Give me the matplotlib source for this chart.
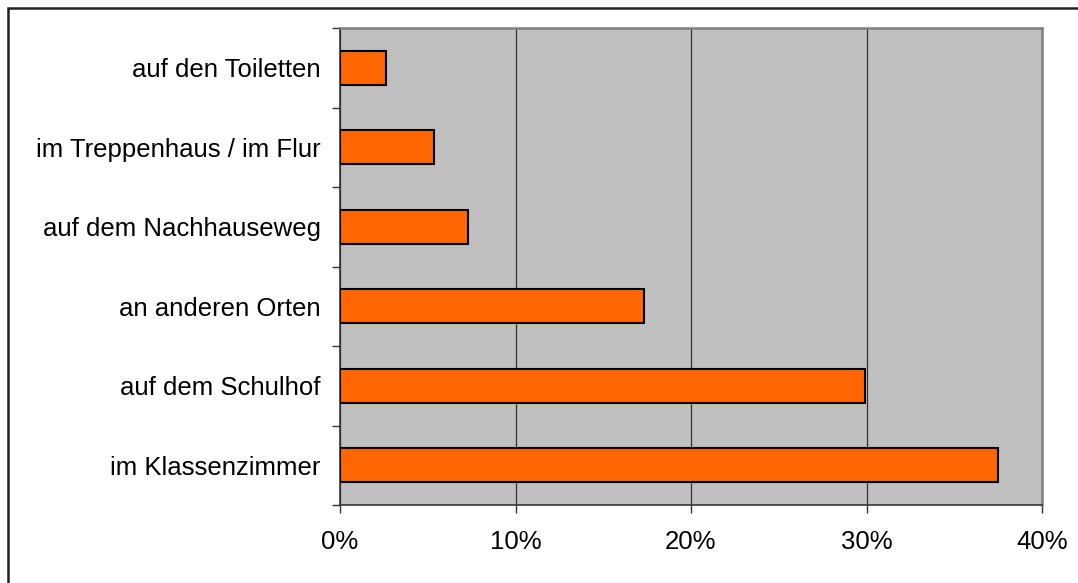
import matplotlib
matplotlib.use("Agg")
import matplotlib.pyplot as plt
from matplotlib.patches import Rectangle
from matplotlib.ticker import PercentFormatter

# bottom to top, as drawn
categories = ["im Klassenzimmer", "auf dem Schulhof", "an anderen Orten",
              "auf dem Nachhauseweg", "im Treppenhaus / im Flur", "auf den Toiletten"]
values = [37.5, 29.9, 17.3, 7.3, 5.35, 2.6]
xticks = [0, 10, 20, 30, 40]

plt.rcParams["font.family"] = ["Liberation Sans", "DejaVu Sans"]

W, H = 1078, 583
fig = plt.figure(figsize=(W / 100, H / 100), dpi=100)
ax = fig.add_axes([340 / W, 1 - 505 / H, (1042 - 340) / W, (505 - 28) / H])

# outer chart frame (only left/top visible in the picture)
fig.patches.append(Rectangle((8 / W, -0.1), 1.2, 1 - 8 / H + 0.1, transform=fig.transFigure,
                             fill=False, ec="#222222", lw=1.8))

ax.set_facecolor("#C0C0C0")
pos = range(len(categories))
ax.barh(pos, values, height=0.43, color="#FF6600", edgecolor="black", lw=1.5, zorder=3)

ax.set_xlim(0, 40)
ax.set_ylim(-0.5, len(categories) - 0.5)
ax.set_xticks(xticks)
ax.xaxis.set_major_formatter(PercentFormatter(decimals=0))
ax.set_yticks(list(pos))
ax.set_yticklabels(categories)
ax.set_yticks([i - 0.5 for i in range(len(categories) + 1)], minor=True)
ax.tick_params(axis="y", which="major", length=0, pad=14, labelsize=18.5)
ax.tick_params(axis="y", which="minor", length=6, width=1, color="#333333")
ax.tick_params(axis="x", length=6, width=1, color="#333333", pad=12, labelsize=18.5)
ax.grid(axis="x", color="#333333", lw=0.9, zorder=1)

for side in ("left", "bottom"):
    ax.spines[side].set_color("#333333")
    ax.spines[side].set_linewidth(1.2)
for side in ("top", "right"):
    ax.spines[side].set_color("#808080")
    ax.spines[side].set_linewidth(1.8)

fig.savefig("out.png", dpi=100)
